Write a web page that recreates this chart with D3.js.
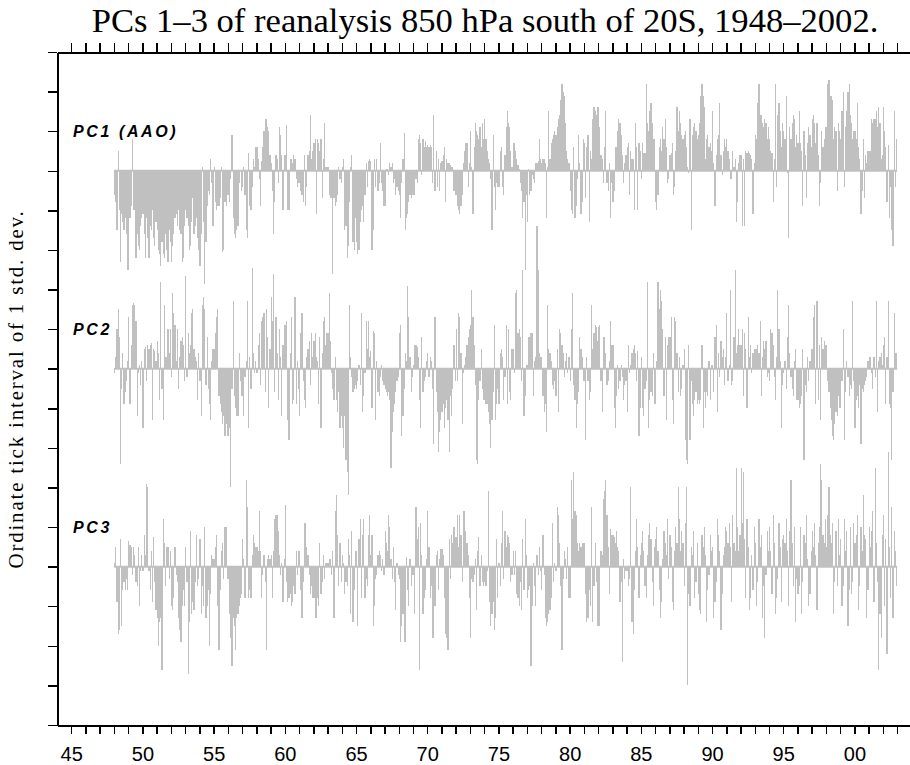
<!DOCTYPE html>
<html>
<head>
<meta charset="utf-8">
<script src="https://cdn.jsdelivr.net/npm/d3@7"></script>
<style>
body{margin:0;background:#fff;}
</style>
</head>
<body>
<div id="chart"></div>
<script>
// monthly values, Jan 1948 .. Dec 2002, one row per year (std. dev. units)
var startYear = 1948;

var pc1 = [
-0.6,-0.8,-1.5,0.5,-1.0,-2.3,-1.1,-1.3,-1.5,-1.2,-1.6,-2.5,
-2.5,-1.2,-0.9,0.8,-1.0,-1.0,-2.2,-1.6,-1.9,-2.0,-1.4,-1.2,
-1.1,-1.6,-2.2,-1.2,-1.7,-2.2,-1.4,-1.5,-1.0,-1.7,-1.9,-1.3,
-1.5,-2.0,-2.1,-2.4,-1.8,-2.1,-2.2,-1.6,-2.0,-2.3,-1.5,-1.8,
-2.3,-1.9,-1.6,-1.2,-1.1,-1.4,-1.0,-1.5,-1.6,-2.3,-2.2,-1.4,
-1.0,-1.2,-1.4,-2.0,-1.9,-1.3,-0.7,-1.6,-1.4,-1.2,-1.7,-2.0,
-2.4,-1.6,0.1,-1.3,-2.85,-1.8,-0.9,-0.5,-0.6,0.3,-0.3,-1.4,
0.1,-0.8,-1.0,-0.9,-0.9,-0.7,0.1,-2.05,-2.0,-0.8,-0.9,-0.6,
-0.6,-0.8,-0.2,0.9,-1.2,-1.6,-1.7,-1.5,-1.4,-0.3,0.0,-0.5,
-0.4,0.1,-0.6,-1.5,-1.7,0.45,-0.9,-1.0,-0.4,0.3,0.1,0.6,
0.6,0.3,-0.2,-0.9,0.25,0.6,1.0,1.3,1.3,1.1,1.0,0.4,
0.2,-0.5,-1.6,-0.8,0.4,0.3,-0.3,1.1,0.9,0.4,-1.0,0.4,
0.4,1.15,-1.0,-1.0,0.3,0.3,0.2,0.4,0.3,-0.2,-0.4,-0.3,
-0.3,-0.5,-0.6,-0.8,0.4,-0.9,-0.4,0.4,0.5,1.4,0.3,0.5,
0.7,0.8,-1.1,0.8,0.7,0.5,0.8,-0.7,0.3,1.2,0.1,0.1,
0.1,-0.6,-0.7,-0.7,-2.6,-0.7,-0.9,-0.8,-0.6,0.1,-0.2,-0.3,
0.1,0.3,-1.5,-1.4,-2.2,-1.9,-0.8,0.1,0.4,-1.8,-2.0,-1.2,
-1.8,-2.1,-2.0,-1.3,-1.0,-0.9,-1.3,-0.6,0.2,-0.4,0.25,0.3,
0.25,-2.0,-1.5,0.3,-0.4,0.3,-0.5,-0.3,0.7,-0.3,-0.5,-0.9,
-0.9,0.05,0.05,-0.1,0.2,0.1,0.2,-0.3,-0.2,-0.6,-0.4,-0.5,
-0.6,-1.2,-0.3,0.3,0.95,-1.5,-1.2,-1.1,-0.8,-0.6,-0.7,-0.6,
-0.6,-0.6,-0.2,-0.3,0.8,0.9,0.7,-0.1,0.8,0.6,0.75,0.6,
0.65,0.6,0.65,0.6,-0.3,1.4,-0.5,0.5,-0.4,0.3,-0.5,0.2,
0.25,0.4,0.6,-0.8,0.3,0.2,0.2,0.15,0.1,0.1,-0.5,-0.6,
-0.6,-0.9,-1.0,-1.1,-0.9,-0.6,0.2,0.5,0.7,0.7,-0.4,0.2,
1.0,0.1,-1.1,0.6,1.2,1.0,0.9,0.8,1.1,0.6,1.2,0.8,
1.3,0.8,0.5,0.3,0.2,-0.2,-1.5,0.9,-0.4,-1.0,-0.3,-0.4,
-0.4,0.5,0.6,-0.4,-0.6,0.4,1.1,1.5,1.2,1.1,0.5,0.1,
0.7,0.7,0.5,0.3,0.15,0.05,-0.3,-0.5,-1.2,-0.8,-2.5,-0.6,
-1.3,0.05,-0.6,-0.5,-0.1,-0.2,-0.3,0.2,0.2,0.25,0.8,0.3,
0.2,0.3,0.3,0.2,-1.2,0.1,1.5,0.3,0.7,0.8,0.9,1.0,
0.9,1.1,1.3,1.4,1.8,2.2,2.0,1.9,1.2,0.5,0.3,0.2,
-0.5,-1.0,-1.1,0.6,-1.2,-0.9,-0.2,0.9,0.2,-1.1,-0.8,0.8,
0.7,-0.7,0.6,0.9,-1.3,0.5,0.3,1.3,1.6,1.5,1.4,1.6,
1.6,1.1,0.4,0.3,-0.3,0.6,1.5,-0.3,-0.5,0.2,-1.2,-0.3,
-0.8,-0.5,0.6,0.6,1.0,1.3,1.2,0.9,0.4,-0.3,0.2,0.4,
0.6,0.7,-0.6,0.5,0.3,0.3,-1.0,1.2,0.6,-1.0,0.7,0.5,
-0.2,0.7,0.45,0.45,2.2,1.2,1.0,1.5,1.7,1.2,0.8,0.8,
-0.8,-1.0,-0.6,0.6,0.8,0.5,1.1,0.8,1.3,0.6,-0.3,-0.2,
0.4,0.45,0.7,-0.6,-0.4,0.5,1.6,1.0,1.5,1.2,0.9,0.8,
0.9,1.0,0.6,0.1,-0.05,1.3,-1.5,0.9,1.1,1.2,1.0,0.8,
0.9,1.2,1.9,2.2,1.9,1.6,0.3,0.8,0.9,0.6,0.7,0.5,
1.5,0.2,-0.9,0.4,0.8,0.9,1.7,0.4,-0.1,0.5,0.8,0.6,
0.8,0.5,0.3,-0.2,-0.2,0.5,0.1,0.3,-1.3,-0.8,0.2,0.4,
0.4,-1.4,0.3,-1.4,0.5,0.45,0.5,0.45,0.4,0.3,-1.1,0.2,
0.9,0.8,1.7,2.2,1.4,1.4,1.2,1.1,1.3,1.2,0.8,1.1,
0.8,0.5,0.45,-0.8,0.3,2.2,-0.4,1.4,1.7,1.0,0.6,1.2,
1.0,0.8,1.9,-0.05,-1.7,1.1,0.8,1.2,1.4,1.3,0.6,0.9,
0.7,1.5,0.7,0.5,-0.9,1.0,0.4,-0.7,0.7,1.1,0.9,0.6,
1.3,1.4,1.2,0.7,1.2,0.4,-0.9,-0.3,1.0,0.6,0.8,1.1,
1.1,2.2,2.3,1.9,1.9,1.8,0.8,1.1,1.0,-0.5,1.2,1.0,
0.8,1.5,2.0,-0.4,1.1,1.5,2.0,2.2,1.4,1.2,0.8,1.0,
1.0,0.8,1.7,0.6,0.3,-1.1,-0.5,0.8,-0.7,0.4,0.2,0.5,
0.5,0.5,1.3,1.2,1.3,1.3,1.5,1.1,1.6,1.2,0.3,0.4,
1.6,1.0,0.6,-0.8,0.65,-1.2,-0.4,-1.5,-1.9,1.5,-0.4,0.8
];

var pc2 = [
-0.1,0.3,1.0,1.5,0.8,-2.4,-0.5,0.4,-0.9,-0.6,-0.3,0.2,
1.3,-0.9,0.6,1.6,1.65,1.6,1.2,-1.2,-0.1,0.1,-0.4,0.2,
-1.5,0.5,0.55,-0.3,0.6,0.5,0.6,0.65,-1.3,0.5,0.45,0.2,
0.7,0.4,-0.8,2.2,-0.5,-1.3,1.6,0.3,0.3,1.0,0.4,1.0,
-0.2,1.9,1.4,1.1,0.2,1.0,-0.5,0.3,0.7,0.8,0.6,-0.3,
2.35,-0.2,0.9,0.4,0.6,1.4,1.5,0.5,0.3,0.2,-0.8,0.4,
-0.3,-1.2,1.6,1.8,1.5,-0.4,0.8,-0.5,-0.9,-1.3,0.2,0.5,
0.5,0.9,1.3,1.5,-0.7,-0.9,-1.1,-1.4,-1.2,-1.7,-1.4,-1.7,
-1.7,-1.5,-3.0,-0.5,1.7,-0.7,-1.0,-1.2,-1.2,0.4,-0.3,-0.7,
-0.7,-1.2,-0.2,0.2,1.7,-1.5,0.3,-0.5,2.55,0.4,-0.1,0.2,
-0.1,0.6,0.9,-0.4,1.2,1.3,1.4,-0.6,1.5,0.8,-1.0,0.5,
1.8,1.2,2.4,-0.6,1.3,0.4,-0.8,1.0,0.3,-1.2,0.6,1.1,
1.1,1.2,-1.3,-1.8,0.4,1.3,-0.9,-0.8,1.8,-0.9,0.2,-0.5,
-1.2,0.9,1.4,-0.3,-0.8,-1.0,0.3,0.5,0.7,-0.4,0.9,0.3,
0.7,0.9,0.3,0.2,-0.9,0.8,-1.5,0.4,1.2,1.3,0.6,0.9,
0.9,1.9,0.7,-0.1,-0.5,-0.8,0.3,-0.8,-1.1,-0.6,-1.5,-1.2,
-1.5,-2.0,-1.2,-2.3,-2.6,-3.2,1.6,0.3,-0.2,-0.6,-0.5,-0.4,
-0.5,-0.3,0.1,-0.4,1.4,-1.1,-0.7,-0.1,1.2,0.5,1.2,0.3,
0.45,-1.0,0.95,0.9,-1.3,0.2,-0.6,-0.7,-0.2,0.1,-0.3,-0.4,
-0.5,-0.6,-0.7,-0.6,-0.8,-2.5,-1.6,-1.1,-0.9,-0.6,-0.3,-0.2,
0.9,1.1,-1.7,-1.2,-0.5,0.4,0.2,2.1,1.3,0.3,-0.6,-0.2,
0.1,0.6,0.6,0.55,0.3,-0.8,-1.5,0.8,-0.6,-0.3,-0.2,0.2,
0.4,-0.2,0.3,0.2,-0.5,-1.9,1.3,-0.6,-1.1,-2.1,-1.6,-1.3,
-1.1,-0.9,-1.5,-1.0,-0.8,-1.3,-2.1,-0.7,-1.2,-0.5,0.6,-0.3,
1.0,-0.3,1.4,1.3,0.4,-1.4,-0.1,0.1,0.3,0.6,0.8,1.0,
1.1,2.0,1.3,0.6,-0.4,-2.3,-2.4,-0.8,-0.3,0.5,-0.5,-0.8,
-0.8,-0.9,-0.9,-1.1,-1.4,-2.0,-1.3,-0.6,1.1,-1.3,-0.9,-0.5,
-0.9,0.4,0.5,0.3,-0.8,-0.2,1.1,-0.9,1.0,-0.6,-0.8,0.5,
0.5,-0.1,1.9,2.0,0.9,1.0,0.8,-0.3,2.5,-1.2,-0.7,0.1,
0.1,0.8,0.8,0.9,0.9,-0.7,0.2,0.3,3.6,2.5,0.4,0.3,
0.3,-0.7,-1.1,-0.9,-1.6,1.6,0.5,0.4,0.2,-0.4,-0.5,-0.3,
-0.7,0.5,-1.1,1.0,0.9,0.6,0.4,-0.2,0.2,0.4,-0.1,0.3,
-0.3,1.0,1.9,-0.4,-0.8,-1.5,-0.9,-0.6,0.8,0.5,0.3,-0.3,
-0.3,-1.8,0.3,-0.3,-0.8,-0.6,1.6,0.5,0.9,1.1,1.05,0.7,
1.05,1.1,-0.3,-1.1,0.8,0.8,0.4,-0.4,-0.3,0.2,1.2,0.6,
0.6,-1.0,-1.5,-0.7,0.1,-0.5,-0.3,0.1,-0.2,-0.8,-0.4,-0.3,
-1.1,0.6,-0.1,0.1,0.4,0.5,0.6,0.4,-0.3,0.45,-1.7,-1.0,
0.3,-1.0,-1.2,-0.5,-0.3,2.2,-1.5,-0.8,-0.6,-0.7,0.4,-0.9,
-0.9,0.2,2.2,1.5,2.0,1.7,1.0,-0.7,0.8,-1.3,0.6,0.8,
0.8,1.3,-0.8,-1.4,1.3,1.2,0.4,-0.6,0.3,-0.7,-0.5,0.1,
0.5,-1.8,-2.3,-2.4,0.6,-1.8,-0.3,-0.9,-1.2,-0.8,-0.6,-0.9,
-0.8,-0.9,-0.8,0.6,-1.5,-0.6,-1.0,-0.6,-0.7,0.2,-0.8,0.1,
0.1,-0.6,0.8,1.1,-1.1,0.4,-0.2,0.7,0.3,0.5,-0.4,0.3,
1.4,-0.3,0.1,2.0,-0.4,-0.3,0.8,2.5,0.4,0.6,1.0,0.6,
0.6,1.0,-0.7,0.9,0.5,-1.0,1.3,0.3,0.6,-0.1,0.4,0.5,
0.5,0.5,0.6,0.4,1.2,-0.7,0.3,0.7,0.5,0.7,-0.2,-0.1,
-0.3,1.0,0.9,0.6,-0.2,-0.8,0.3,2.0,1.0,0.2,-1.5,-0.4,
-0.1,0.2,-0.5,0.8,1.6,0.4,-0.2,-0.5,-0.7,0.2,0.5,-0.8,
-0.8,-1.0,-0.9,-0.7,0.5,-2.3,-0.4,-0.6,0.3,-0.3,0.2,0.5,
0.5,1.3,1.6,-0.9,1.7,-0.8,0.6,-1.3,0.8,0.5,0.7,0.6,
0.6,-0.3,-0.6,-1.0,-1.3,-1.7,-1.8,-1.4,-1.1,-1.2,-0.7,-1.0,
-1.0,-0.3,1.0,-1.8,-0.6,0.2,-0.2,-0.7,-0.4,-0.5,1.7,-0.3,
-1.5,-0.8,-0.7,-1.0,-0.4,-1.9,-0.5,-0.6,-0.4,-0.3,-0.2,0.2,
0.3,0.3,-0.1,-0.5,0.3,-0.2,1.7,-1.1,0.2,0.3,0.4,0.1,
0.6,0.8,-0.9,0.3,1.7,-0.9,-1.0,-2.3,-0.6,1.4,0.4,0.4
];

var pc3 = [
0.1,0.5,-0.9,-1.7,-1.6,0.7,-1.5,-0.6,-0.4,-0.6,-0.3,-0.6,
0.65,0.55,0.5,-0.2,0.5,0.3,-0.4,-0.5,0.5,-1.0,-0.1,0.3,
-0.1,0.8,0.3,2.1,2.0,-0.1,-0.6,0.4,-0.9,0.75,-0.4,-1.1,
-1.3,-2.0,-1.4,-1.3,-2.6,1.2,0.6,-0.5,0.5,0.5,-0.3,0.4,
-1.0,-1.1,-0.8,0.5,-0.2,-0.4,-1.3,-1.6,-1.9,-1.0,-0.6,-1.0,
0.5,-0.4,-2.7,-1.4,0.9,-1.2,-0.9,-1.1,-0.4,0.8,-0.5,-0.3,
0.7,-1.2,-0.5,-1.0,1.0,-1.3,-1.0,-0.6,-2.0,-0.7,0.3,0.2,
0.2,0.5,0.8,-1.0,-2.1,-0.6,0.4,0.6,-0.3,1.0,1.0,-0.3,
-0.3,-1.2,-1.8,-2.5,-1.3,-1.5,-2.1,-1.3,-1.2,-1.0,-0.8,-0.7,
0.7,0.2,-0.8,2.2,1.5,-0.8,-0.6,-0.8,0.3,0.8,0.6,0.5,
0.5,0.4,1.4,0.4,-0.8,-0.2,0.3,-0.4,-2.1,0.2,0.3,0.2,
0.3,-0.8,0.4,1.2,1.3,1.3,0.9,0.3,-0.2,0.1,-0.9,0.2,
1.55,-0.4,-0.9,-0.8,-0.7,-1.0,-0.9,-0.5,-0.7,0.4,-0.2,0.4,
0.4,-0.6,-1.3,-0.4,1.1,1.1,0.5,0.3,-0.2,-0.7,-0.5,-0.8,
-0.8,-1.3,-1.3,-0.8,-1.0,0.6,-0.7,-0.4,0.3,-0.3,0.1,0.1,
0.1,0.2,0.2,-0.2,0.4,-1.3,1.4,1.8,0.8,-0.5,0.6,-0.4,
0.3,0.1,-0.7,-0.4,-0.5,0.7,0.3,-1.2,0.9,-1.4,-0.6,0.4,
0.4,-1.5,0.7,1.2,-0.8,0.8,1.2,-0.8,-0.3,-0.5,0.8,1.3,
0.3,0.8,-1.5,-1.0,-0.3,-0.2,0.3,0.4,0.3,-0.1,0.2,-0.2,
0.9,0.6,0.4,1.3,1.0,0.2,-0.3,0.5,-0.4,-1.1,0.1,-0.2,
-0.3,-1.9,-1.5,-1.2,-1.9,-1.9,0.25,-0.6,-1.0,0.2,-0.5,-0.2,
-0.2,-1.2,1.5,0.7,1.0,-2.6,1.1,0.3,-1.2,-0.8,-0.6,0.2,
1.4,0.5,-0.8,-0.5,-1.8,-1.8,-1.0,0.3,0.4,-0.6,0.2,0.45,
0.45,0.3,-0.8,-1.7,-1.8,-2.1,0.7,-0.3,0.8,0.6,1.0,0.75,
0.75,1.3,0.5,1.3,0.8,-0.4,1.4,1.4,0.9,0.6,0.3,-0.8,
-1.8,-0.3,-0.4,-0.2,0.2,-1.1,0.4,0.75,-0.5,0.3,-0.4,-0.5,
-0.4,-0.5,-0.1,1.9,-0.9,-1.5,-1.2,-0.9,-1.6,-1.3,0.7,-0.8,
0.1,-0.5,0.6,1.4,-0.3,0.9,0.5,0.8,0.75,0.6,-0.4,-0.2,
0.4,-0.2,0.4,-0.7,-0.8,-1.0,-0.4,-1.1,0.7,-0.6,1.2,0.3,
-0.8,-0.6,-0.5,-2.5,-1.0,0.1,-0.5,-1.0,0.3,-0.2,0.5,-0.1,
-0.6,0.8,-0.2,-1.3,-1.5,-1.4,-1.2,-1.1,-0.8,1.1,-0.4,0.1,
-0.1,1.5,1.3,0.6,-0.5,-2.1,-0.3,0.4,0.2,-0.3,0.5,-0.8,
-0.8,2.2,1.2,2.4,1.4,1.3,0.6,0.4,0.6,0.5,0.6,0.6,
0.6,-0.7,-1.4,-1.3,-0.6,-1.0,1.5,-1.4,-0.5,0.6,-0.4,-1.5,
-1.5,-1.5,0.4,0.3,1.7,1.9,2.2,1.3,0.5,-0.7,0.95,0.8,
0.8,0.75,0.6,0.9,0.5,0.4,-0.9,-0.4,-2.4,0.2,-0.3,-0.1,
-0.1,-0.5,-0.3,2.0,-1.4,-1.7,-0.6,0.4,1.2,0.5,-0.8,0.3,
0.6,0.9,0.4,-0.5,-0.8,0.3,0.8,1.1,0.7,-0.4,-1.0,0.5,
0.7,1.0,0.4,-0.6,-1.3,-0.9,0.2,0.9,0.6,0.3,1.2,-0.3,
0.8,0.5,-0.9,-1.1,0.4,1.0,0.6,2.0,1.2,0.4,0.9,0.6,
-0.5,1.1,2.0,-3.0,-0.7,-1.0,0.5,0.3,0.9,-0.8,-0.4,0.6,
-0.7,-1.1,-1.2,0.8,0.5,1.0,0.3,-1.4,-0.6,-0.2,0.8,0.4,
0.5,-1.3,-0.9,-0.4,1.2,0.8,0.4,-1.6,-0.7,0.3,0.5,1.0,
0.9,0.6,1.1,0.5,-0.9,1.3,0.6,0.4,2.5,1.0,0.4,0.8,
2.5,1.1,2.4,0.7,-0.8,1.2,0.5,-1.1,-0.8,0.3,-0.6,1.0,
0.6,-1.0,-0.4,1.2,0.5,0.8,-1.3,-0.5,-1.8,-0.2,0.9,0.4,
1.0,0.4,-0.7,1.3,0.6,-1.2,-0.8,-0.3,1.1,0.5,-0.9,0.7,
0.8,0.6,1.2,0.4,-1.0,0.9,2.2,0.6,-0.5,1.0,-1.4,-0.3,
-0.7,-0.5,1.0,-1.2,-0.4,0.8,0.6,1.3,0.2,-1.0,-0.7,0.4,
0.9,0.5,1.1,0.3,-1.1,0.6,1.0,2.6,2.2,0.8,0.6,1.2,
0.5,1.3,2.0,0.8,0.6,1.1,-1.2,-0.4,0.9,-0.5,1.2,0.3,
0.7,-1.0,-0.5,1.2,0.4,0.9,-1.5,-0.6,1.0,-0.7,-0.4,1.1,
0.6,0.8,1.3,-1.1,-0.5,1.0,0.4,1.8,0.8,0.7,-1.3,-0.6,
1.0,0.5,0.9,1.4,-0.9,2.5,0.6,-0.4,-2.6,-1.2,-1.8,0.8,
1.3,-1.0,0.7,-2.2,2.9,0.5,-0.8,1.5,-1.3,0.9,0.4,-0.5
];

var seriesNames = ["PC1 (AAO)", "PC2", "PC3"];
var seriesOffsets = [14, 9, 4];          // baseline of each PC, in std. dev. from the bottom
var yearTicks = d3.range(1945, 2004);
var labelYears = [1945, 1950, 1955, 1960, 1965, 1970, 1975, 1980, 1985, 1990, 1995, 2000];

var W = 910, H = 765;

var svg = d3.select("#chart")
	.append("svg")
	.attr("width", W)
	.attr("height", H);

var x = d3.scaleLinear().domain([1944, 2004]).range([57, 911.4]);
var y = d3.scaleLinear().domain([0, 17]).range([725, 52]);
var bw = x(startYear + 1/12) - x(startYear);

function drawSeries(vals, base, name){

	var g = svg.append("g");
	g.selectAll("rect")
	   .data(vals)
	   .enter()
	   .append("rect")
	   .attr("x", function(d,i){ return x(startYear + i/12); })
	   .attr("width", bw)
	   .attr("y", function(d){ return y(base + Math.max(d, 0)); })
	   .attr("height", function(d){ return Math.abs(y(base + d) - y(base)); })
	   .attr("fill", "#c0c0c0")
	   .attr("shape-rendering", "crispEdges");

	g.append("line")
	   .attr("x1", x(startYear))
	   .attr("x2", x(startYear + vals.length/12))
	   .attr("y1", y(base))
	   .attr("y2", y(base))
	   .attr("stroke", "#c0c0c0")
	   .attr("stroke-width", 2);

	svg.append("text")
	   .attr("x", 73)
	   .attr("y", y(base + 1))
	   .attr("dy", "0.35em")
	   .attr("font-family", "'Liberation Sans', Arial, sans-serif")
	   .attr("font-style", "italic")
	   .attr("font-weight", "bold")
	   .attr("font-size", 16)
	   .attr("letter-spacing", 2.6)
	   .attr("fill", "#000")
	   .text(name);
}

drawSeries(pc1, seriesOffsets[0], seriesNames[0]);
drawSeries(pc2, seriesOffsets[1], seriesNames[1]);
drawSeries(pc3, seriesOffsets[2], seriesNames[2]);

// axes
function styleAxis(g){
	g.selectAll("path").attr("stroke", "#000").attr("stroke-width", 2).attr("shape-rendering", "crispEdges");
	g.selectAll("line").attr("stroke", "#000").attr("stroke-width", 1.5).attr("shape-rendering", "crispEdges");
}

var leftAxis = svg.append("g")
	.attr("transform", "translate(57,0)")
	.call(d3.axisLeft(y).tickValues(d3.range(0, 18)).tickSize(9).tickSizeOuter(0).tickFormat(""));
styleAxis(leftAxis);

var topAxis = svg.append("g")
	.attr("transform", "translate(0," + y(17) + ")")
	.call(d3.axisTop(x).tickValues(yearTicks).tickSize(9).tickSizeOuter(0).tickFormat(""));
styleAxis(topAxis);

var bottomAxis = svg.append("g")
	.attr("transform", "translate(0," + y(0) + ")")
	.call(d3.axisBottom(x).tickValues(yearTicks).tickSize(9).tickSizeOuter(0)
		.tickFormat(function(d){ return labelYears.indexOf(d) >= 0 ? d3.format("02d")(d % 100) : ""; }));
styleAxis(bottomAxis);
bottomAxis.selectAll("text")
	.attr("y", 22)
	.attr("dy", "0.71em")
	.attr("font-family", "'Liberation Sans', Arial, sans-serif")
	.attr("font-size", 20)
	.attr("fill", "#000");

// title and ordinate label
svg.append("text")
	.attr("x", 485)
	.attr("y", 32)
	.attr("text-anchor", "middle")
	.attr("font-family", "'Liberation Serif', 'Times New Roman', serif")
	.attr("font-size", 34.6)
	.attr("fill", "#000")
	.text("PCs 1\u20133 of reanalysis 850 hPa south of 20S, 1948\u20132002.");

svg.append("text")
	.attr("transform", "translate(23,389) rotate(-90)")
	.attr("text-anchor", "middle")
	.attr("font-family", "'Liberation Serif', 'Times New Roman', serif")
	.attr("font-size", 21)
	.attr("letter-spacing", 1.8)
	.attr("fill", "#000")
	.text("Ordinate tick interval of 1 std. dev.");
</script>
</body>
</html>
